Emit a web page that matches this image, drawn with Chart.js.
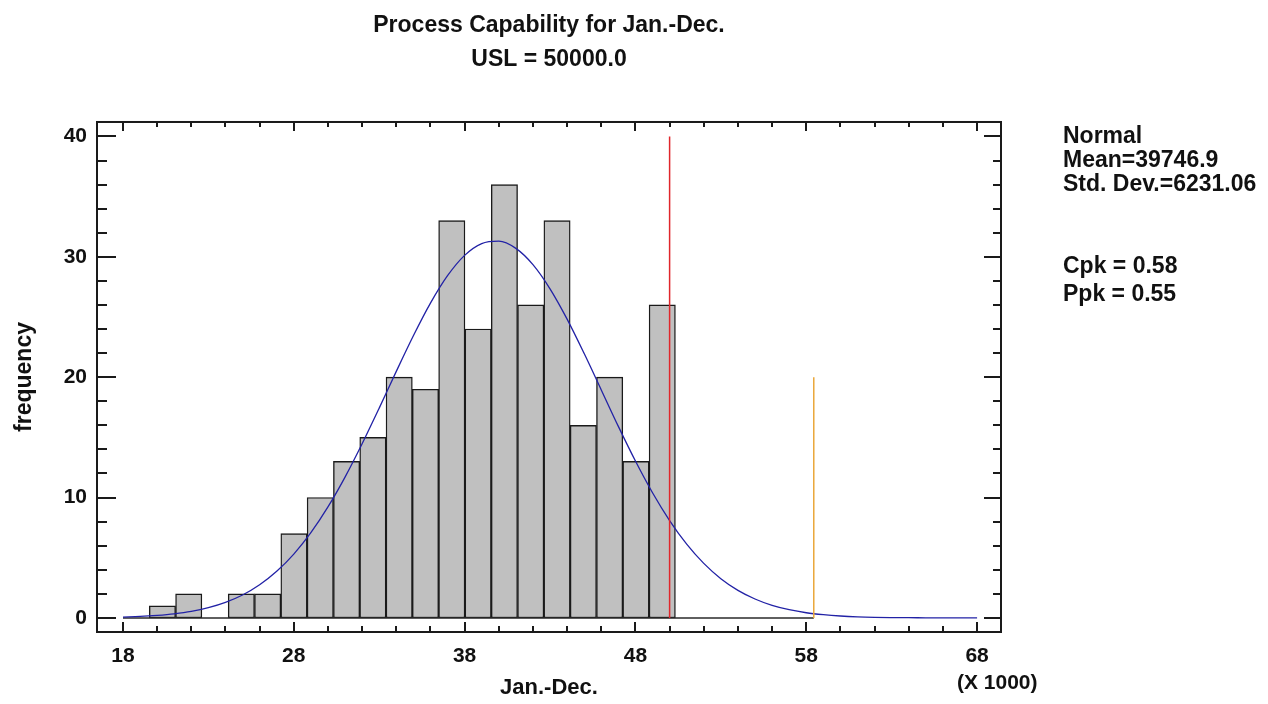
<!DOCTYPE html>
<html>
<head>
<meta charset="utf-8">
<title>Process Capability for Jan.-Dec.</title>
<script src="https://cdn.jsdelivr.net/npm/chart.js@4.4.0/dist/chart.umd.min.js"></script>
<style>
    body { margin: 0; background: #fff; }
    #wrap { position: relative; width: 1268px; height: 704px; }
    #stats {
        position: absolute; left: 1063px; top: 123px;
        font: bold 23px "Liberation Sans", Arial, sans-serif; color: #111;
        line-height: 24px;
    }
    #stats div { height: 24px; white-space: nowrap; }
    #xunit {
        position: absolute; left: 957px; top: 670px;
        font: bold 21px "Liberation Sans", Arial, sans-serif; color: #111;
    }
</style>
</head>
<body>
<div id="wrap">
    <canvas id="capChart" width="1268" height="704"></canvas>
    <div id="stats">
        <div>Normal</div>
        <div>Mean=39746.9</div>
        <div>Std. Dev.=6231.06</div>
        <div style="height:58px"></div>
        <div>Cpk = 0.58</div>
        <div style="margin-top:4px">Ppk = 0.55</div>
    </div>
    <div id="xunit">(X 1000)</div>
</div>
<script>
// valores em milhares
const binCenters = [20.31, 21.85, 23.39, 24.93, 26.47, 28.01, 29.55, 31.09, 32.63, 34.17,
                    35.71, 37.25, 38.79, 40.33, 41.87, 43.41, 44.95, 46.49, 48.03, 49.57];
const binCounts = [1, 2, 0, 2, 2, 7, 10, 13, 15, 20,
                   19, 33, 24, 36, 26, 33, 16, 20, 13, 26];

// curva normal ajustada
const curveX = [18, 19, 20, 21, 22, 23, 24, 25, 26, 27, 28, 29, 30, 31, 32, 33, 34, 35, 36, 37,
                38, 39, 40, 41, 42, 43, 44, 45, 46, 47, 48, 49, 50, 51, 52, 53, 54, 55, 56, 57,
                58, 59, 60, 61, 62, 63, 64, 65, 66, 67, 68];
const curveY = [0.07, 0.12, 0.21, 0.34, 0.54, 0.85, 1.29, 1.9, 2.75, 3.87, 5.3, 7.08, 9.22, 11.7, 14.47, 17.43, 20.48, 23.44, 26.15, 28.43,
                30.12, 31.1, 31.3, 30.7, 29.35, 27.34, 24.82, 21.96, 18.94, 15.91, 13.03, 10.4, 8.09, 6.13, 4.53, 3.26, 2.29, 1.57, 1.04, 0.68,
                0.43, 0.27, 0.16, 0.09, 0.05, 0.03, 0.02, 0.01, 0.0, 0.0, 0.0];

const usl = 50;
const uslHeight = 40;
const upper3s = 58.44;
const upper3sHeight = 20;

const xTicks = [18, 28, 38, 48, 58, 68];
const yTicks = [0, 10, 20, 30, 40];

const fontFamily = '"Liberation Sans", Arial, sans-serif';

// moldura com marcas internas nos quatro lados
const framePlugin = {
    id: 'frame',
    afterDraw(chart) {
        const ctx = chart.ctx;
        const a = chart.chartArea;
        const xs = chart.scales.x;
        const ys = chart.scales.y;
        ctx.save();
        ctx.strokeStyle = '#1a1a1a';
        ctx.lineWidth = 2;
        ctx.strokeRect(a.left, a.top, a.right - a.left, a.bottom - a.top);

        ctx.beginPath();
        for (let v = xTicks[0]; v <= xTicks[xTicks.length - 1]; v += 2) {
            const major = xTicks.includes(v);
            const px = Math.round(xs.getPixelForValue(v));
            ctx.moveTo(px, a.top);
            ctx.lineTo(px, a.top + (major ? 9 : 5));
            ctx.moveTo(px, a.bottom);
            ctx.lineTo(px, a.bottom - (major ? 10 : 6));
        }
        for (let v = yTicks[0]; v <= yTicks[yTicks.length - 1]; v += 2) {
            const major = yTicks.includes(v);
            const py = Math.round(ys.getPixelForValue(v));
            ctx.moveTo(a.left, py);
            ctx.lineTo(a.left + (major ? 19 : 10), py);
            ctx.moveTo(a.right, py);
            ctx.lineTo(a.right - (major ? 17 : 8), py);
        }
        ctx.stroke();
        ctx.restore();
    }
};

const ctx = document.getElementById('capChart').getContext('2d');
new Chart(ctx, {
    type: 'bar',
    data: {
        datasets: [
            {
                type: 'line',
                data: [{ x: usl, y: 0 }, { x: usl, y: uslHeight }],
                borderColor: '#e0262b',
                borderWidth: 1.5,
                pointRadius: 0,
                order: 0
            },
            {
                type: 'line',
                data: [{ x: upper3s, y: 0 }, { x: upper3s, y: upper3sHeight }],
                borderColor: '#eaa73a',
                borderWidth: 1.5,
                pointRadius: 0,
                order: 0
            },
            {
                type: 'line',
                data: curveX.map((x, i) => ({ x: x, y: curveY[i] })),
                borderColor: '#2222a6',
                borderWidth: 1.3,
                pointRadius: 0,
                cubicInterpolationMode: 'monotone',
                order: 1
            },
            {
                type: 'line',
                data: [{ x: xTicks[0], y: 0 }, { x: upper3s, y: 0 }],
                borderColor: '#2a2a2a',
                borderWidth: 1.5,
                pointRadius: 0,
                order: 2
            },
            {
                type: 'bar',
                data: binCenters.map((x, i) => ({ x: x, y: binCounts[i] })),
                backgroundColor: '#c0c0c0',
                borderColor: '#1a1a1a',
                borderWidth: 1.4,
                borderSkipped: false,
                categoryPercentage: 1,
                barPercentage: 1,
                order: 5
            }
        ]
    },
    options: {
        responsive: false,
        animation: false,
        layout: { padding: { left: 0, right: 267, top: 0, bottom: 0 } },
        plugins: {
            legend: { display: false },
            tooltip: { enabled: false },
            title: {
                display: true,
                fullSize: false,
                text: ['Process Capability for Jan.-Dec.', 'USL = 50000.0'],
                color: '#111',
                font: { family: fontFamily, size: 23, weight: 'bold', lineHeight: 1.478 },
                padding: { top: 9, bottom: 45 }
            }
        },
        scales: {
            x: {
                type: 'linear',
                offset: false,
                min: 16.48,
                max: 69.4,
                grid: { display: false, drawTicks: false },
                border: { display: false },
                afterBuildTicks: scale => { scale.ticks = xTicks.map(v => ({ value: v })); },
                afterFit: scale => { scale.height = 72; },
                ticks: {
                    padding: 12,
                    maxRotation: 0,
                    autoSkip: false,
                    color: '#111',
                    font: { family: fontFamily, size: 21, weight: 'bold' },
                    callback: v => String(v)
                },
                title: {
                    display: true,
                    text: 'Jan.-Dec.',
                    color: '#111',
                    font: { family: fontFamily, size: 22, weight: 'bold' },
                    padding: { top: 0, bottom: 3 }
                }
            },
            y: {
                min: -1.17,
                max: 41.2,
                grid: { display: false, drawTicks: false },
                border: { display: false },
                afterBuildTicks: scale => { scale.ticks = yTicks.map(v => ({ value: v })); },
                afterFit: scale => { scale.width = 97; },
                ticks: {
                    padding: 10,
                    color: '#111',
                    font: { family: fontFamily, size: 21, weight: 'bold' },
                    callback: v => String(v)
                },
                title: {
                    display: true,
                    text: 'frequency',
                    color: '#111',
                    font: { family: fontFamily, size: 23, weight: 'bold' },
                    padding: { top: 11, bottom: 0 }
                }
            }
        }
    },
    plugins: [framePlugin]
});
</script>
</body>
</html>
